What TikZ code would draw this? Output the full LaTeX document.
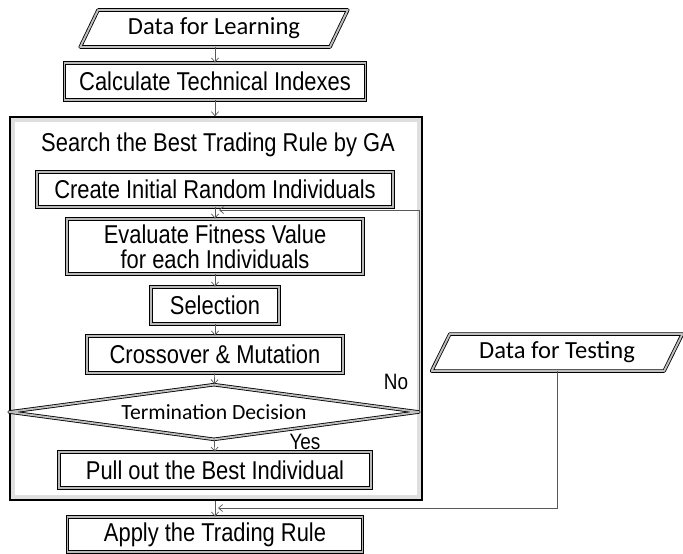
\documentclass[tikz,border=0pt]{standalone}
\usepackage{fontspec}
\setmainfont{Liberation Sans}[FakeStretch=0.85]
\newfontfamily\datafont{Carlito}
\usetikzlibrary{shapes.geometric,arrows.meta}

\newlength{\unitpx}
\setlength{\unitpx}{0.03cm}

\tikzset{
  proc/.style={draw=black, line width=0.7pt, double=gray!55, double distance=1.6pt,
    fill=white, inner sep=0pt, align=center, font=\fontsize{22}{21}\selectfont},
  io/.style={trapezium, trapezium stretches, trapezium left angle=58, trapezium right angle=122,
    draw=black, line width=0.7pt, double=gray!50, double distance=1.6pt, line join=round,
    fill=white, inner sep=0pt, font=\datafont\fontsize{21}{21}\selectfont},
  decision/.style={diamond, aspect=8, draw=black, line width=0.7pt, double=gray!50,
    double distance=1.6pt, line join=round, fill=white, inner sep=0pt,
    minimum width=410\unitpx, minimum height=55\unitpx, font=\datafont\fontsize{18.5}{18}\selectfont},
  groupbox/.style={draw=black, line width=1.1pt, fill=white,
    path picture={\draw[gray!25, line width=8pt] (path picture bounding box.south west)
      rectangle (path picture bounding box.north east);}},
  arr/.style={draw=black!65, line width=0.6pt, -{Straight Barb[length=3.5pt,width=6pt]}},
  lbl/.style={font=\fontsize{19}{19}\selectfont}
}

\begin{document}
\begin{tikzpicture}[x=\unitpx, y=-\unitpx]
    \useasboundingbox (0,0) rectangle (683,553);
    % GA search frame
    \node (ga) [groupbox, minimum width=412\unitpx, minimum height=383\unitpx] at (216,308.5) {};
    \node (gatitle) [font=\fontsize{22}{22}\selectfont] at (218,145) {Search the Best Trading Rule by GA};
    % Input data
    \node (learn) [io, minimum width=268\unitpx, minimum height=37\unitpx] at (214,28.5) {Data for Learning};
    \node (test) [io, minimum width=251\unitpx, minimum height=37\unitpx] at (557,352.5) {Data for Testing};
    % Steps
    \node (calc) [proc, minimum width=301\unitpx, minimum height=37\unitpx] at (215,81.5) {Calculate Technical Indexes};
    \node (create) [proc, minimum width=356\unitpx, minimum height=35\unitpx] at (215,189.5) {Create Initial Random Individuals};
    \node (eval) [proc, minimum width=296\unitpx, minimum height=55\unitpx] at (215,246.5) {Evaluate Fitness Value\\for each Individuals};
    \node (sel) [proc, minimum width=128\unitpx, minimum height=37\unitpx] at (215,305.5) {Selection};
    \node (cross) [proc, minimum width=256\unitpx, minimum height=37\unitpx] at (215,354.5) {Crossover \& Mutation};
    \node (dec) [decision] at (214,412) {Termination Decision};
    \node (pull) [proc, minimum width=312\unitpx, minimum height=36\unitpx] at (215,470) {Pull out the Best Individual};
    \node (apply) [proc, minimum width=295\unitpx, minimum height=35\unitpx] at (215,534.5) {Apply the Trading Rule};
    % Branch labels
    \node (no) [lbl] at (396,382) {No};
    \node (yes) [lbl] at (305,442) {Yes};
    % Joining points
    \coordinate (loopin) at (219,210);
    \coordinate (testin) at (218,508);
    % Arrows
    \draw [arr] (learn.south -| calc.north) -- (calc.north);
    \draw [arr] (calc.south) -- (calc.south |- ga.north);
    \draw [arr] (create) -- (eval);
    \draw [arr] (eval) -- (sel);
    \draw [arr] (sel) -- (cross);
    \draw [arr] (cross) -- (dec);
    \draw [arr] (dec) -- (pull);
    \draw [arr] (ga.south -| apply.north) -- (apply.north);
    \draw [arr] (dec.east) |- (loopin);
    \draw [arr] (test.south) |- (testin);
\end{tikzpicture}
\end{document}
